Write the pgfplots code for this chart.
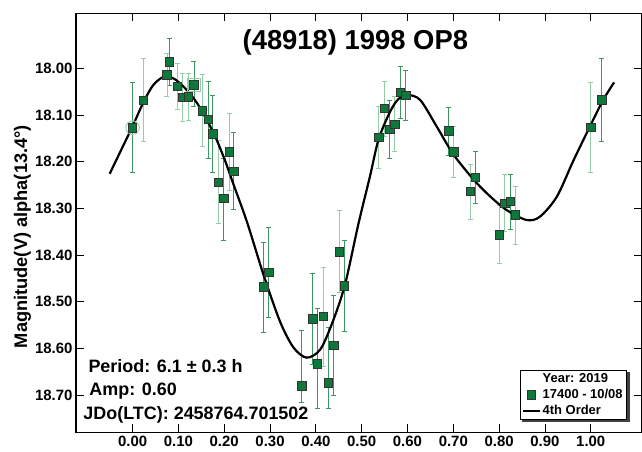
\documentclass[border=0pt]{standalone}
\usepackage{pgfplots}
\pgfplotsset{compat=1.18}
\usepackage{pgfplotstable}
\usepackage{fontspec}
\setmainfont{Liberation Sans}
\usetikzlibrary{backgrounds}

\definecolor{mkfill}{RGB}{14,120,58}
\definecolor{bardark}{RGB}{60,150,95}
\definecolor{barlight}{RGB}{150,205,168}

% dark error bars
\pgfplotstableread{
x y lo hi
0.000 18.127 18.030 18.224
0.080 17.986 17.936 18.036
0.134 18.035 17.986 18.082
0.165 18.109 18.029 18.193
0.175 18.140 18.059 18.222
0.199 18.279 18.192 18.368
0.221 18.220 18.138 18.302
0.286 18.468 18.372 18.566
0.2975 18.437 18.341 18.534
0.369 18.680 18.561 18.716
0.393 18.537 18.439 18.634
0.4036 18.633 18.514 18.729
0.4276 18.674 18.555 18.729
0.439 18.593 18.487 18.700
0.4625 18.466 18.369 18.563
0.561 18.130 18.068 18.193
0.584 18.051 17.995 18.107
0.596 18.058 18.004 18.112
0.690 18.134 18.084 18.186
0.748 18.233 18.179 18.289
0.825 18.285 18.227 18.345
1.024 18.067 17.979 18.156
}\darkbars

% light error bars
\pgfplotstableread{
x y lo hi
0.023 18.068 17.979 18.156
0.075 18.014 17.969 18.061
0.098 18.038 17.989 18.088
0.109 18.062 18.011 18.113
0.1215 18.061 18.011 18.111
0.152 18.091 18.013 18.168
0.187 18.244 18.154 18.332
0.211 18.179 18.096 18.261
0.416 18.532 18.426 18.638
0.451 18.393 18.305 18.481
0.5375 18.148 18.081 18.214
0.549 18.086 18.027 18.145
0.572 18.120 18.061 18.179
0.701 18.179 18.125 18.234
0.737 18.264 18.205 18.323
0.801 18.357 18.294 18.419
0.812 18.289 18.227 18.349
0.835 18.314 18.254 18.378
1.000 18.126 18.031 18.224
}\lightbars

% all measured points
\pgfplotstableread{
x y
0.000 18.127
0.023 18.068
0.075 18.014
0.080 17.986
0.098 18.038
0.109 18.062
0.1215 18.061
0.134 18.035
0.152 18.091
0.165 18.109
0.175 18.140
0.187 18.244
0.199 18.279
0.211 18.179
0.221 18.220
0.286 18.468
0.2975 18.437
0.369 18.680
0.393 18.537
0.4036 18.633
0.416 18.532
0.4276 18.674
0.439 18.593
0.451 18.393
0.4625 18.466
0.5375 18.148
0.549 18.086
0.561 18.130
0.572 18.120
0.584 18.051
0.596 18.058
0.690 18.134
0.701 18.179
0.737 18.264
0.748 18.233
0.801 18.357
0.812 18.289
0.825 18.285
0.835 18.314
1.000 18.126
1.024 18.067
}\points

% 4th order fit
\pgfplotstableread{
x y
-0.050 18.226
-0.025 18.175
0.000 18.124
0.024 18.072
0.045 18.036
0.068 18.018
0.090 18.022
0.110 18.038
0.130 18.060
0.148 18.086
0.177 18.139
0.200 18.193
0.220 18.248
0.250 18.330
0.286 18.443
0.322 18.543
0.351 18.598
0.380 18.620
0.410 18.602
0.438 18.540
0.464 18.462
0.493 18.333
0.518 18.232
0.537 18.152
0.562 18.093
0.580 18.066
0.600 18.057
0.628 18.068
0.664 18.125
0.700 18.184
0.744 18.238
0.780 18.274
0.817 18.304
0.860 18.325
0.889 18.318
0.926 18.275
0.962 18.198
1.000 18.121
1.027 18.068
1.051 18.030
}\fit

\begin{document}
\begin{tikzpicture}
\begin{axis}[
  scale only axis,
  width=565.5bp, height=419bp,
  xmin=-0.1235, xmax=1.1108,
  ymin=17.882, ymax=18.78,
  y dir=reverse,
  clip=false,
  xtick={0,0.1,0.2,0.3,0.4,0.5,0.6,0.7,0.8,0.9,1.0},
  ytick={18.0,18.1,18.2,18.3,18.4,18.5,18.6,18.7},
  scaled ticks=false,
  xticklabel style={/pgf/number format/.cd,fixed,fixed zerofill,precision=2},
  yticklabel style={/pgf/number format/.cd,fixed,fixed zerofill,precision=2},
  /pgf/number format/assume math mode=true,
  tick label style={font=\bfseries\fontsize{15}{15}\selectfont},
  major tick length=8bp,
  tick style={black, line width=0.8bp},
  axis line style={line width=1.5bp},
  legend cell align=left,
  legend image post style={xscale=0.95},
  legend style={name=leg, at={(axis description cs:0.9744,0.0294)}, anchor=south east,
    draw=black, line width=0.8bp, fill=white,
    font=\bfseries\fontsize{13}{13.5}\selectfont,
    inner xsep=2bp, inner ysep=1.5bp, row sep=1bp},
]
\coordinate (LL) at (axis description cs:0,0);
\coordinate (UR) at (axis description cs:1,1);

\addplot[forget plot, draw=none, mark=none,
  error bars/.cd, y dir=both, y explicit,
  error bar style={draw=bardark, line width=0.8bp},
  error mark options={rotate=90, draw=bardark, mark size=2.5bp, line width=0.8bp}]
  table[x=x, y=y, y error plus expr=\thisrow{hi}-\thisrow{y}, y error minus expr=\thisrow{y}-\thisrow{lo}] {\darkbars};
\addplot[forget plot, draw=none, mark=none,
  error bars/.cd, y dir=both, y explicit,
  error bar style={draw=barlight, line width=0.8bp},
  error mark options={rotate=90, draw=barlight, mark size=2.5bp, line width=0.8bp}]
  table[x=x, y=y, y error plus expr=\thisrow{hi}-\thisrow{y}, y error minus expr=\thisrow{y}-\thisrow{lo}] {\lightbars};

% highlight marks
\addplot[forget plot, only marks, mark=o, mark size=6.8bp,
  mark options={draw=barlight, line width=0.9bp}] coordinates {(0.000,18.127)};
\addplot[forget plot, only marks, mark=square, mark size=6.4bp,
  mark options={draw=barlight, line width=0.9bp}] coordinates {(0.134,18.035)};

\addlegendimage{empty legend}
\addlegendentry{Year: 2019}

\addplot[only marks, mark=square*, mark size=4.2bp,
  mark options={fill=mkfill, draw=black!80, line width=0.6bp}]
  table[x=x, y=y] {\points};
\addlegendentry{17400 - 10/08}

\addplot[black, line width=2.2bp, smooth, mark=none] table[x=x, y=y] {\fit};
\addlegendentry{4th Order}

\node[anchor=base, inner sep=0, font=\bfseries\fontsize{27.5}{28}\selectfont]
  at (axis description cs:0.494,0.914) {(48918) 1998 OP8};
\node[anchor=base west, inner sep=0, font=\bfseries\fontsize{18}{18}\selectfont]
  at (axis description cs:0.0218,0.1422) {Period: 6.1 ± 0.3 h};
\node[anchor=base west, inner sep=0, font=\bfseries\fontsize{18}{18}\selectfont]
  at (axis description cs:0.0235,0.089) {Amp: 0.60};
\node[anchor=base west, inner sep=0, font=\bfseries\fontsize{18}{18}\selectfont]
  at (axis description cs:0.0129,0.031) {JDo(LTC): 2458764.701502};
\node[rotate=90, inner sep=0, font=\bfseries\fontsize{18.3}{18}\selectfont]
  at ([xshift=-53.5bp]axis description cs:0,0.467) {Magnitude(V) alpha(13.4°)};
\end{axis}
\begin{pgfonlayer}{background}
\fill[black!75] ([shift={(2.5bp,-2.5bp)}]leg.south west) rectangle ([shift={(2.5bp,-2.5bp)}]leg.north east);
\end{pgfonlayer}
\pgfresetboundingbox
\path[use as bounding box] ([shift={(-76bp,-19.7bp)}]LL) rectangle ([shift={(0.5bp,13.3bp)}]UR);
\end{tikzpicture}
\end{document}
